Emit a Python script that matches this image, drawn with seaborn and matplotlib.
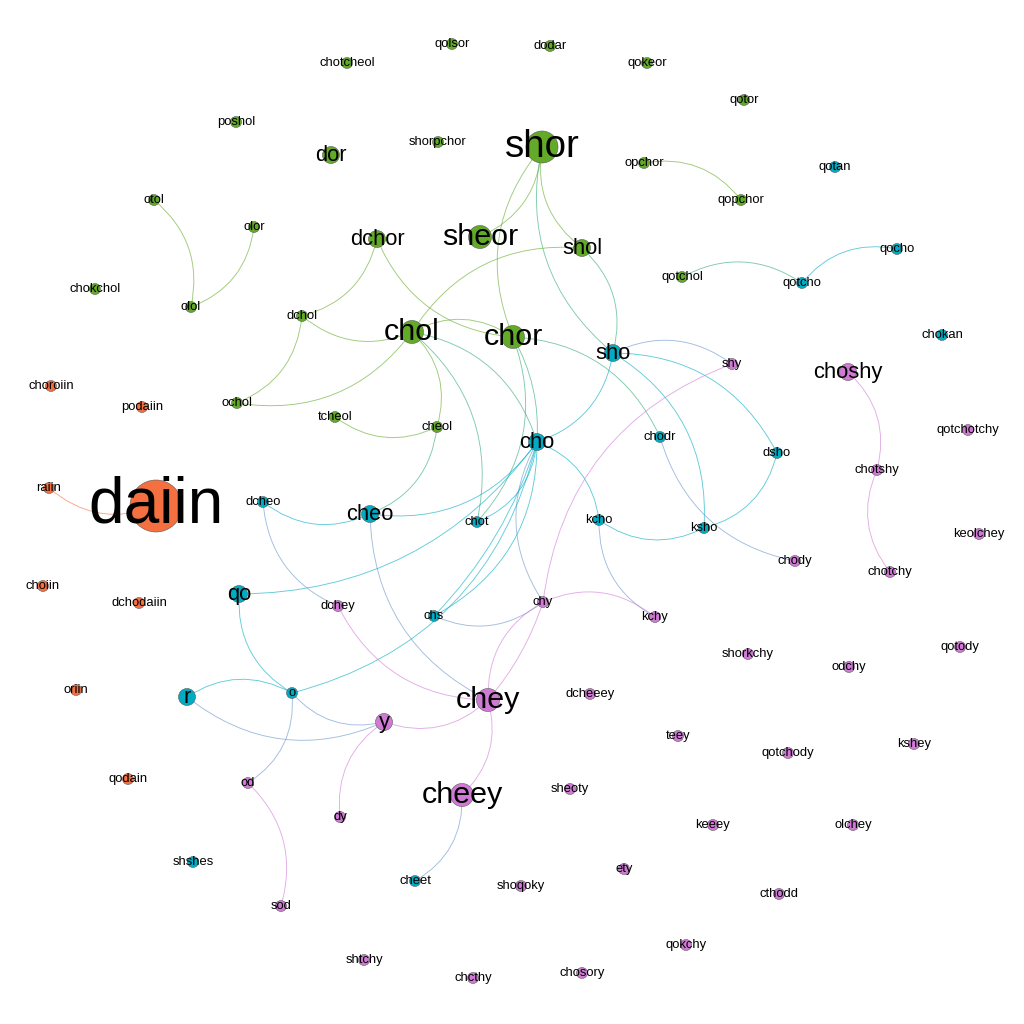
import numpy as np
import pandas as pd
import matplotlib
matplotlib.use("Agg")
import matplotlib.pyplot as plt
import matplotlib.colors as mcolors
from matplotlib.patches import FancyArrowPatch
import seaborn as sns

# ---------------- data ----------------
node_names = [
    # class 0 (green)
    "qolsor", "chotcheol", "dodar", "qokeor", "qotor", "poshol", "dor", "shorpchor",
    "shor", "opchor", "qopchor", "otol", "olor", "dchor", "sheor", "shol", "chokchol",
    "olol", "qotchol", "dchol", "chol", "chor", "ochol", "tcheol", "cheol",
    # class 2 (teal)
    "qotan", "qocho", "qotcho", "chokan", "sho", "cho", "chodr", "dsho", "dcheo",
    "cheo", "chot", "kcho", "ksho", "qo", "chs", "r", "o", "shshes", "cheet",
    # class 1 (orange)
    "choroiin", "podaiin", "raiin", "daiin", "choiin", "dchodaiin", "oriin", "qodain",
    # class 3 (purple)
    "shy", "choshy", "qotchotchy", "chotshy", "keolchey", "chody", "chotchy", "dchey",
    "chy", "kchy", "shorkchy", "qotody", "odchy", "chey", "dcheeey", "y", "teey",
    "qotchody", "kshey", "od", "cheey", "sheoty", "dy", "keeey", "olchey", "ety",
    "cthodd", "shoqoky", "sod", "qokchy", "shtchy", "chcthy", "chosory",
]
node_x = [
    452, 347, 550, 647, 744, 236, 331, 438, 542, 644, 741, 154, 254, 377, 480, 582, 95,
    191, 682, 302, 412, 513, 237, 335, 437,
    835, 897, 802, 942, 613, 537, 660, 777, 263, 370, 477, 599, 704, 239, 434, 187, 292,
    193, 415,
    51, 142, 49, 156, 43, 139, 76, 128,
    732, 848, 968, 877, 979, 795, 890, 338, 543, 655, 748, 960, 849, 488, 590, 384, 678,
    788, 914, 248, 462, 570, 340, 713, 853, 624, 779, 521, 281, 686, 364, 473, 582,
]
node_y = [
    44, 63, 46, 63, 100, 122, 155, 142, 147, 163, 200, 200, 227, 239, 237, 248, 289,
    307, 277, 316, 332, 337, 403, 417, 427,
    167, 249, 283, 335, 353, 442, 437, 453, 502, 514, 522, 520, 528, 594, 616, 697, 693,
    862, 881,
    386, 407, 488, 506, 586, 603, 690, 779,
    364, 372, 430, 470, 534, 561, 572, 606, 602, 617, 654, 647, 667, 700, 694, 722, 736,
    753, 744, 783, 795, 789, 817, 825, 825, 869, 894, 886, 906, 945, 960, 978, 973,
]
node_class = [0] * 25 + [2] * 19 + [1] * 8 + [3] * 33
node_level = [
    1, 1, 1, 1, 1, 1, 2, 1, 4, 1, 1, 1, 1, 2, 3, 2, 1, 1, 1, 1, 3, 3, 1, 1, 1,
    1, 1, 1, 1, 2, 2, 1, 1, 1, 2, 1, 1, 1, 2, 1, 2, 1, 1, 1,
    1, 1, 1, 5, 1, 1, 1, 1,
    1, 2, 1, 1, 1, 1, 1, 1, 1, 1, 1, 1, 1, 3, 1, 2, 1, 1, 1, 1, 3, 1, 1, 1, 1, 1, 1, 1,
    1, 1, 1, 1, 1,
]

edge_source = [
    "raiin", "olol", "olol", "qopchor", "qotcho", "qocho", "sheor", "shor", "shor",
    "shor", "sho", "dchol", "dchor", "dchol", "ochol", "ochol", "chor", "shol",
    "tcheol", "cheol", "cheo", "chot", "cho", "cho", "chot", "chodr", "cho", "shy",
    "dsho", "ksho", "ksho", "chodr", "kcho", "kcho", "kcho", "cho", "shy", "chs",
    "kchy", "chs", "chs", "chot", "cheo", "qo", "o", "dcheo", "dcheo", "cheo", "dchey",
    "qo", "o", "r", "o", "od", "sod", "y", "y", "cheey", "cheet", "chotshy", "chotshy",
    "chy", "chey",
]
edge_target = [
    "daiin", "otol", "olor", "opchor", "qotchol", "qotcho", "shor", "chor", "shol",
    "sho", "shol", "dchor", "chor", "chol", "dchol", "chol", "chol", "chol",
    "cheol", "chol", "cheol", "chol", "chol", "chor", "chor", "chor", "sho", "sho",
    "sho", "sho", "dsho", "chody", "cho", "ksho", "kchy", "chy", "chy", "chy",
    "chy", "cho", "cho", "cho", "cho", "cho", "cho", "cheo", "dchey", "chey", "chey",
    "o", "r", "y", "y", "o", "od", "dy", "chey", "chey", "cheey", "choshy", "chotchy",
    "chey", "chy",
]
edge_bend = [0.3] * len(edge_source)
edge_bend[23] = 0.15   # cho - chor
edge_bend[40] = 0.12   # second chs - cho
edge_bend[43] = 0.25   # qo - cho
edge_bend[62] = 0.1    # chey - chy

# ---------------- style ----------------
palette = {0: "#62aa28", 1: "#f57040", 2: "#00acc4", 3: "#d07ad6"}
radius_px = {1: 5.5, 2: 8.5, 3: 11.5, 4: 16, 5: 26}
font_px = {1: 13, 2: 22, 3: 30.5, 4: 38.5, 5: 64}
DPI = 100
sizes = {k: (2 * r * 72 / DPI) ** 2 for k, r in radius_px.items()}

sns.set_theme(style="white")
plt.rcParams["font.family"] = ["Liberation Sans", "DejaVu Sans"]

df = pd.DataFrame({"name": node_names, "x": node_x, "y": node_y,
                   "cls": node_class, "level": node_level})
pos = {n: (x, y) for n, x, y in zip(df.name, df.x, df.y)}
cls_of = dict(zip(df.name, df.cls))

fig = plt.figure(figsize=(1024 / DPI, 1024 / DPI), dpi=DPI, facecolor="white")
ax = fig.add_axes([0, 0, 1, 1])

sns.scatterplot(data=df, x="x", y="y", hue="cls", palette=palette, size="level",
                sizes=sizes, edgecolor="#5a5a5a", linewidth=0.4, legend=False,
                ax=ax, zorder=3)

for s, t, b in zip(edge_source, edge_target, edge_bend):
    c = (np.array(mcolors.to_rgb(palette[cls_of[s]])) +
         np.array(mcolors.to_rgb(palette[cls_of[t]]))) / 2
    patch = FancyArrowPatch(pos[s], pos[t], connectionstyle=f"arc3,rad={b}",
                            arrowstyle="-", color=c, alpha=0.62, lw=0.65,
                            shrinkA=0, shrinkB=0, zorder=1)
    ax.add_patch(patch)

for n, x, y, lv in zip(df.name, df.x, df.y, df.level):
    fp = font_px[lv]
    ax.text(x, y + 0.26 * fp, n, ha="center", va="baseline",
            fontsize=fp * 72 / DPI, color="black", zorder=4)

ax.set_xlim(0, 1024)
ax.set_ylim(1024, 0)
ax.axis("off")
fig.savefig("out.png", dpi=DPI, facecolor="white")
